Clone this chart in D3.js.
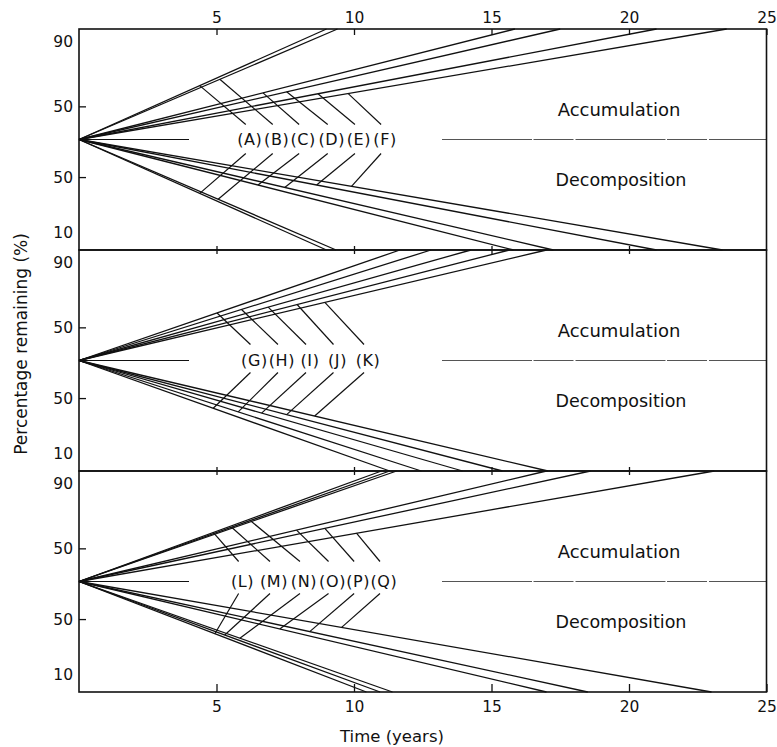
<!DOCTYPE html>
<html>
<head>
<meta charset="utf-8">
<script src="https://cdn.jsdelivr.net/npm/d3@7"></script>
<style>
  body { margin: 0; background: #fff; }
  svg { display: block; font-family: "DejaVu Sans", sans-serif; }
</style>
</head>
<body>
<div id="chart"></div>
<script>
/* DATA */
// time axis (years)
const xTicks = [5, 10, 15, 20, 25];
// vertical axis: tick labels and their place on the panel scale (-1 .. 1)
const yTickLabels = ["90", "50", "50", "10"];
const yTickValues = [0.89, 0.30, -0.34, -0.84];

// years until each curve leaves the panel (accumulation goes up, decomposition goes down)
const labels1 = ["A", "B", "C", "D", "E", "F"];
const accum1 = [9.0, 9.4, 15.85, 17.5, 21.0, 23.55];
const decomp1 = [9.0, 9.35, 15.8, 17.25, 21.0, 23.4];

const labels2 = ["G", "H", "I", "J", "K"];
const accum2 = [11.67, 12.8, 14.25, 15.65, 17.0];
const decomp2 = [11.3, 12.45, 13.95, 15.4, 17.05];

const labels3 = ["L", "M", "N", "O", "P", "Q"];
const accum3 = [11.0, 11.3, 11.55, 17.0, 18.6, 23.1];
const decomp3 = [10.45, 10.95, 11.4, 17.0, 18.5, 23.0];

/* ANNOTATION LAYOUT (label place, leader line ends, in years) */
const labelYears = [
  [6.21, 7.19, 8.15, 9.19, 10.18, 11.13],
  [6.38, 7.38, 8.4, 9.4, 10.51],
  [5.95, 7.09, 8.18, 9.22, 10.15, 11.09]
];
const leaderUp = [
  [4.39, 5.12, 6.69, 7.55, 8.69, 9.79],
  [5.02, 5.91, 6.88, 7.93, 8.94],
  [4.88, 5.55, 6.27, 7.91, 8.94, 10.09]
];
const leaderDown = [
  [4.39, 5.06, 6.51, 7.48, 8.64, 9.91],
  [4.88, 5.79, 6.64, 7.55, 8.57],
  [4.94, 5.3, 5.85, 7.3, 8.39, 9.55]
];
const gapUp = [15, 16, 20];
const gapDown = [14, 12, 12];

const panels = [
  { labels: labels1, acc: accum1, dec: decomp1 },
  { labels: labels2, acc: accum2, dec: decomp2 },
  { labels: labels3, acc: accum3, dec: decomp3 }
];

/* CONSTANTS */
const width = 777, height = 747;
const plotLeft = 79, plotRight = 766.5, plotTop = 29, plotBottom = 692;
const panelH = (plotBottom - plotTop) / 3;
const ink = "#111";

const svg = d3.select("#chart").append("svg")
  .attr("width", width)
  .attr("height", height);

const x = d3.scaleLinear().domain([0, 25]).range([plotLeft, plotRight]);

const line = d3.line().x(d => x(d[0]));

panels.forEach((p, i) => {
  const top = plotTop + i * panelH;
  const y = d3.scaleLinear().domain([-1, 1]).range([top + panelH, top]);
  line.y(d => y(d[1]));

  const g = svg.append("g").attr("class", "panel");

  // curves
  g.selectAll("path.acc")
    .data(p.acc)
    .join("path")
    .attr("class", "acc")
    .attr("d", d => line([[0, 0], [d, 1]]))
    .attr("fill", "none").attr("stroke", ink).attr("stroke-width", 1.3);

  g.selectAll("path.dec")
    .data(p.dec)
    .join("path")
    .attr("class", "dec")
    .attr("d", d => line([[0, 0], [d, -1]]))
    .attr("fill", "none").attr("stroke", ink).attr("stroke-width", 1.3);

  // centre line, short on the left, long on the right
  g.append("line")
    .attr("x1", x(0)).attr("x2", x(4))
    .attr("y1", y(0)).attr("y2", y(0))
    .attr("stroke", ink).attr("stroke-width", 1.1);
  g.append("line")
    .attr("x1", x(13.2)).attr("x2", x(25))
    .attr("y1", y(0)).attr("y2", y(0))
    .attr("stroke", "#555").attr("stroke-width", 1)
    .attr("stroke-dasharray", "90,1.5,40,2");

  // labels (A)(B)...
  g.selectAll("text.lab")
    .data(p.labels)
    .join("text")
    .attr("class", "lab")
    .attr("x", (d, j) => x(labelYears[i][j]))
    .attr("y", y(0))
    .attr("dy", "0.36em")
    .attr("text-anchor", "middle")
    .attr("font-size", 16)
    .attr("letter-spacing", 0.6)
    .attr("fill", ink)
    .text(d => `(${d})`);

  // leader lines
  g.selectAll("line.up")
    .data(p.labels)
    .join("line")
    .attr("class", "up")
    .attr("x1", (d, j) => x(labelYears[i][j]) - 4)
    .attr("y1", y(0) - gapUp[i])
    .attr("x2", (d, j) => x(leaderUp[i][j]))
    .attr("y2", (d, j) => y(leaderUp[i][j] / p.acc[j]))
    .attr("stroke", ink).attr("stroke-width", 1.2);

  g.selectAll("line.down")
    .data(p.labels)
    .join("line")
    .attr("class", "down")
    .attr("x1", (d, j) => x(labelYears[i][j]) - 4)
    .attr("y1", y(0) + gapDown[i])
    .attr("x2", (d, j) => x(leaderDown[i][j]))
    .attr("y2", (d, j) => y(-leaderDown[i][j] / p.dec[j]))
    .attr("stroke", ink).attr("stroke-width", 1.2);

  // Accumulation / Decomposition
  g.append("text")
    .attr("x", 619).attr("y", y(0.27))
    .attr("dy", "0.36em")
    .attr("text-anchor", "middle")
    .attr("font-size", 18).attr("fill", ink)
    .text("Accumulation");
  g.append("text")
    .attr("x", 621).attr("y", y(-0.36))
    .attr("dy", "0.36em")
    .attr("text-anchor", "middle")
    .attr("font-size", 17.5).attr("fill", ink)
    .text("Decomposition");

  // y axis
  const yAxis = g.append("g")
    .attr("transform", `translate(${plotLeft},0)`)
    .call(d3.axisLeft(y)
      .tickValues(yTickValues)
      .tickFormat((d, j) => yTickLabels[j])
      .tickSizeInner(-7)
      .tickSizeOuter(0)
      .tickPadding(6));
  yAxis.select(".domain").remove();
  yAxis.selectAll(".tick")
    .filter((d, j) => yTickLabels[j] !== "50")
    .select("line").remove();
  yAxis.selectAll("text").attr("font-size", 15.5).attr("fill", ink)
    .attr("font-family", "DejaVu Sans");
  yAxis.selectAll("line").attr("stroke", ink).attr("stroke-width", 1.3);

  // panel frame
  g.append("rect")
    .attr("x", plotLeft).attr("y", top)
    .attr("width", plotRight - plotLeft).attr("height", panelH)
    .attr("fill", "none").attr("stroke", ink).attr("stroke-width", 1.6);
});

// top axis
svg.append("g")
  .attr("transform", `translate(0,${plotTop})`)
  .call(d3.axisTop(x).tickValues(xTicks).tickSizeInner(-6).tickSizeOuter(0).tickPadding(6));

// ticks on the panel boundaries
[1, 2].forEach(k => {
  const yy = plotTop + k * panelH;
  svg.append("g").attr("transform", `translate(0,${yy})`)
    .call(d3.axisBottom(x).tickValues(xTicks.slice(0, 4)).tickSizeInner(4).tickSizeOuter(0).tickFormat(""));
  svg.append("g").attr("transform", `translate(0,${yy})`)
    .call(d3.axisTop(x).tickValues(xTicks.slice(0, 4)).tickSizeInner(4).tickSizeOuter(0).tickFormat(""));
});

// bottom axis
svg.append("g")
  .attr("transform", `translate(0,${plotBottom})`)
  .call(d3.axisBottom(x).tickValues(xTicks).tickSizeInner(-8).tickSizeOuter(0).tickPadding(9));

svg.selectAll(".domain").filter(function () { return this.closest(".panel") === null; }).remove();
svg.selectAll(".tick line").attr("stroke", ink).attr("stroke-width", 1.3);
svg.selectAll(".tick text").attr("font-size", 15.5).attr("fill", ink)
  .attr("font-family", "DejaVu Sans");

// axis titles
svg.append("text")
  .attr("transform", "translate(27,344) rotate(-90)")
  .attr("text-anchor", "middle")
  .attr("font-size", 17).attr("fill", ink)
  .text("Percentage remaining (%)");

svg.append("text")
  .attr("x", 392).attr("y", 742)
  .attr("text-anchor", "middle")
  .attr("font-size", 16.5).attr("fill", ink)
  .text("Time (years)");
</script>
</body>
</html>
